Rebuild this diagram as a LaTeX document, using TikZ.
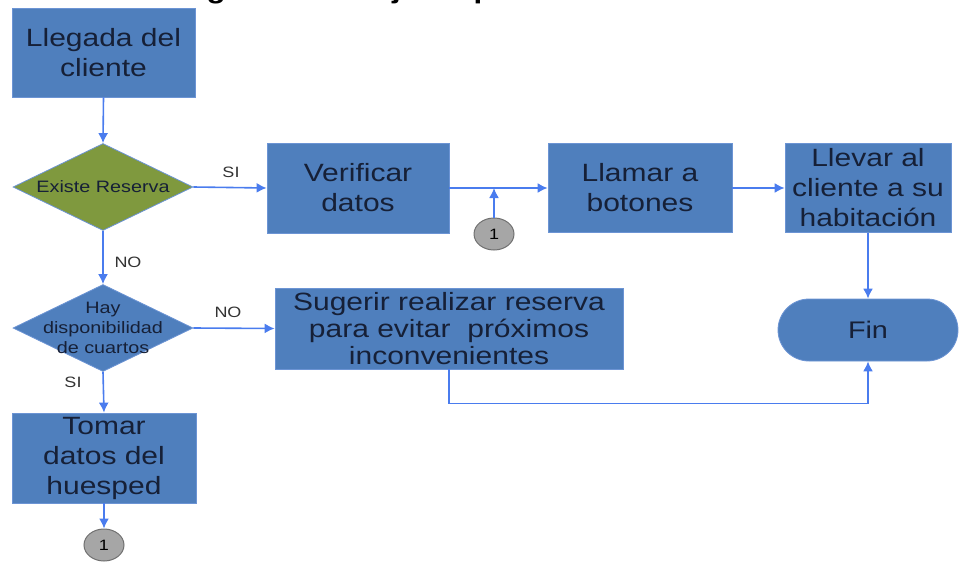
\documentclass[tikz,border=0pt]{standalone}
\usepackage{fontspec}
\setmainfont{Liberation Sans}[FakeStretch=1.2]
\usepackage{tikz}
\usetikzlibrary{positioning,shapes.geometric,arrows.meta,calc}

\definecolor{procblue}{RGB}{79,127,189}
\definecolor{procedge}{RGB}{108,148,212}
\definecolor{decgreen}{RGB}{127,153,62}
\definecolor{txtnavy}{RGB}{22,32,55}
\definecolor{flowblue}{RGB}{74,124,238}
\definecolor{conngray}{RGB}{166,166,166}
\definecolor{conndark}{RGB}{112,112,112}

\begin{document}
\begin{tikzpicture}[
    x=1pt, y=-1pt,
    >=Latex,
    process/.style={
        rectangle,
        draw=procedge,
        line width=0.8pt,
        fill=procblue,
        text=txtnavy,
        align=center,
        inner sep=0pt,
        font=\fontsize{25}{30}\selectfont
    },
    decision/.style={
        diamond,
        draw=procedge,
        line width=0.8pt,
        inner sep=0pt,
        minimum width=180pt,
        minimum height=87pt
    },
    dtext/.style={
        text=txtnavy,
        align=center,
        inner sep=0pt,
        font=\fontsize{16.5}{20}\selectfont
    },
    terminal/.style={
        rectangle,
        rounded corners=31pt,
        draw=procedge,
        line width=0.8pt,
        fill=procblue,
        text=txtnavy,
        minimum width=180pt,
        minimum height=62pt,
        font=\fontsize{24}{28}\selectfont
    },
    connector/.style={
        ellipse,
        draw=conndark,
        line width=1pt,
        fill=conngray,
        minimum width=40pt,
        minimum height=32pt,
        inner sep=0pt,
        font=\fontsize{15}{17}\selectfont
    },
    flowlbl/.style={
        text=black!80,
        inner sep=0pt,
        font=\fontsize{15}{17}\selectfont
    },
    flow/.style={
        flowblue,
        line width=1.6pt,
        -{Latex[length=10pt,width=10pt]}
    }
]

\useasboundingbox (0,0) rectangle (961,562);
\clip (0,0) rectangle (961,562);

% title, cut off by the top edge
\node[anchor=base west, inner sep=0pt, font=\bfseries\fontsize{26}{30}\selectfont] (title) at (158,-1.5)
{Diagrama de flujo de proceso};

% left column
\node[process, minimum width=183pt, minimum height=89pt] (llegada) at (103.5,52.5)
{Llegada del\\cliente};

\node[decision, fill=decgreen] (existe) at (103,187) {};
\node[dtext] (existetxt) at (existe) {Existe Reserva};

\node[decision, fill=procblue] (hay) at (103,328) {};
\node[dtext] (haytxt) at (hay) {Hay\\disponibilidad\\de cuartos};

\node[process, minimum width=184pt, minimum height=90pt] (tomar) at (104,458)
{Tomar\\datos del\\huesped};

\node[connector] (c2) at (104,545) {1};

% top row
\node[process, minimum width=182pt, minimum height=90pt] (verif) at (358,188)
{Verificar\\datos};

\node[process, minimum width=184pt, minimum height=89pt] (llamar) at (640,188)
{Llamar a\\botones};

\node[process, minimum width=166pt, minimum height=89pt] (llevar) at (868,188)
{Llevar al\\cliente a su\\habitación};

\node[connector] (c1) at (494,234) {1};

% second row
\node[process, minimum width=348pt, minimum height=81pt, font=\fontsize{25}{27}\selectfont] (sugerir) at (449,328.5)
{Sugerir realizar reserva\\para evitar~ próximos\\inconvenientes};

\node[terminal] (fin) at (868,330) {Fin};

% connectors
\draw[flow] (llegada.south) -- (existe.north);
\draw[flow] (existe.east) -- (verif.west);
\draw[flow] (existe.south) -- (hay.north);
\draw[flow] (verif.east) -- (llamar.west);
\draw[flow] (c1.north) -- (c1.north |- verif.east);
\draw[flow] (llamar.east) -- (llevar.west);
\draw[flow] (llevar.south) -- (fin.north);
\draw[flow] (hay.east) -- (sugerir.west);
\draw[flow] (hay.south) -- (tomar.north);
\draw[flow] (tomar.south) -- (c2.north);
\draw[flow] (sugerir.south) -- ++(0,34) -| (fin.south);

% branch labels
\node[flowlbl] (si1) at (231,172) {SI};
\node[flowlbl] (no1) at (128,262) {NO};
\node[flowlbl] (no2) at (228,312) {NO};
\node[flowlbl] (si2) at (73,382) {SI};

\end{tikzpicture}
\end{document}
